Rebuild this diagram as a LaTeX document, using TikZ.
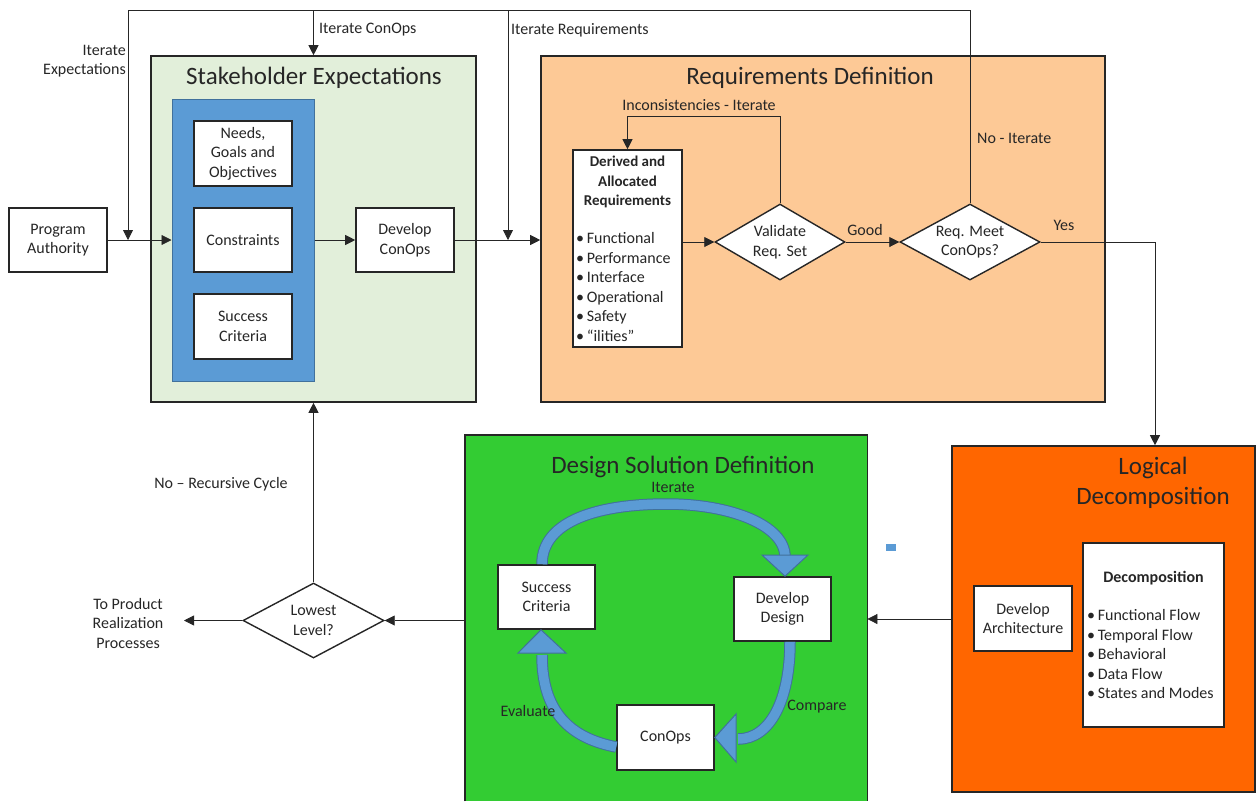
\documentclass[tikz,border=0pt]{standalone}
\usepackage{fontspec}
\setmainfont{Carlito}
\usetikzlibrary{arrows.meta,shapes.geometric}
\definecolor{segreen}{HTML}{E2EFDA}
\definecolor{sblue}{HTML}{5B9BD5}
\definecolor{sblueedge}{HTML}{41719C}
\definecolor{peach}{HTML}{FDC996}
\definecolor{dsgreen}{HTML}{33CC33}
\definecolor{ldorange}{HTML}{FF6600}
\definecolor{ink}{HTML}{262626}
\begin{document}
\begin{tikzpicture}[x=1pt,y=-1pt,
  every node/.style={text=ink, inner sep=0pt, font=\fontsize{16}{19.5}\selectfont},
  wbox/.style={draw=ink, line width=1.6pt, fill=white, align=center, minimum width=98pt, minimum height=64pt},
  panel/.style={draw=ink, line width=1.6pt},
  dmd/.style={diamond, draw=ink, line width=1.4pt, fill=white, align=center, aspect=1.8},
  arr/.style={draw=ink, line width=0.8pt, -{Triangle[length=10pt,width=10pt]}},
  ln/.style={draw=ink, line width=0.8pt},
  ttl/.style={font=\fontsize{25}{30}\selectfont, align=center},
  lbl/.style={font=\fontsize{16}{19.5}\selectfont, align=center},
  blk/.style={draw=sblueedge, line width=1pt, double=sblue, double distance=9.5pt},
  blkhead/.style={draw=sblueedge, line width=1pt, fill=sblue, line join=miter},
]
\useasboundingbox (0,0) rectangle (1256,801);

% ---------- Stakeholder Expectations ----------
\node[wbox] (pa) at (58,240) {Program\\Authority};
\node[panel, fill=segreen, minimum width=325pt, minimum height=346pt] (se) at (313.5,229) {};
\node[ttl] at (314,78) {Stakeholder Expectations};
\node[draw=sblueedge, line width=1pt, fill=sblue, minimum width=142pt, minimum height=282pt] (blue) at (243,240) {};
\node[wbox, minimum height=65pt] (ngo) at (243,153.5) {Needs,\\Goals and\\Objectives};
\node[wbox] (con) at (243,240) {Constraints};
\node[wbox, minimum height=65pt] (suc) at (243,326.5) {Success\\Criteria};
\node[wbox] (dco) at (405,240) {Develop\\ConOps};

% ---------- Requirements Definition ----------
\node[panel, fill=peach, minimum width=564pt, minimum height=346pt] (rd) at (823,229) {};
\node[ttl] at (810,78) {Requirements Definition};
\node[wbox, minimum width=109pt, minimum height=197pt] (der) at (627.5,248.5) {};
\node[font=\bfseries\fontsize{15}{19.5}\selectfont, align=center] at (627.5,182) {Derived and\\Allocated\\Requirements};
\node[anchor=west, align=left] at (576,287) {•\,Functional\\•\,Performance\\•\,Interface\\•\,Operational\\•\,Safety\\•\,“ilities”};
\node[dmd, minimum width=130pt, minimum height=76pt] (val) at (780,242) {Validate\\Req. Set};
\node[dmd, minimum width=140pt, minimum height=76pt] (rm) at (970,242) {Req. Meet\\ConOps?};

% ---------- Logical Decomposition ----------
\node[panel, fill=ldorange, minimum width=303pt, minimum height=346pt] (ld) at (1103.5,619) {};
\node[ttl] at (1153,483) {Logical\\Decomposition};
\node[wbox, minimum height=65pt] (arch) at (1023,618.5) {Develop\\Architecture};
\node[wbox, minimum width=141pt, minimum height=184pt] (dec) at (1153.5,635) {};
\node[font=\bfseries\fontsize{16}{19.5}\selectfont] at (1153.5,578) {Decomposition};
\node[anchor=west, align=left] at (1087,654) {•\,Functional Flow\\•\,Temporal Flow\\•\,Behavioral\\•\,Data Flow\\•\,States and Modes};
\fill[sblue] (886,544) rectangle (896,551);

% ---------- Design Solution Definition ----------
\node[fill=dsgreen, minimum width=402pt, minimum height=366pt, anchor=north west] (ds) at (465,435) {};
\draw[draw=ink, line width=1.6pt] (ds.south west) -- (ds.north west) -- (ds.north east) -- (ds.south east);
\node[ttl] at (683,467) {Design Solution Definition};
\node[wbox, minimum width=97pt] (sc2) at (546.5,597) {Success\\Criteria};
\node[wbox, minimum width=97pt] (dd) at (782.5,609) {Develop\\Design};
\node[wbox, minimum width=97pt, minimum height=65pt] (co) at (665.5,737.5) {ConOps};
\draw[blk] ([xshift=-4.5pt]sc2.north) .. controls (542,520) and (600,504) .. (667,504) .. controls (730,504) and (785,525) .. (785,557);
\draw[blkhead] (762,555) -- (808,555) -- ([xshift=2.5pt]dd.north) -- cycle;
\draw[blk] ([xshift=7.5pt]dd.south) .. controls (790,700) and (770,739) .. (738,739);
\draw[blkhead] (736,714) -- (736,762) -- (co.east) -- cycle;
\draw[blk] ([yshift=-9.5pt]co.west) .. controls (570,738) and (542,712) .. (542,655);
\draw[blkhead] (518,653) -- (566,653) -- ([xshift=-5.5pt]sc2.south) -- cycle;
\node[lbl] at (673,487) {Iterate};
\node[lbl] at (528,711) {Evaluate};
\node[lbl] at (817,707) {Compare};

% ---------- Lowest level ----------
\node[dmd, minimum width=141pt, minimum height=75pt] (low) at (313.5,620.5) {Lowest\\Level?};
\coordinate (tpr) at (184,620.5);
\node[lbl] at (128,623) {To Product\\Realization\\Processes};
\node[lbl] at (221,484) {No – Recursive Cycle};

% ---------- connectors ----------
\draw[arr] (pa.east) -- (blue.west);
\draw[arr] (blue.east) -- (dco.west);
\draw[arr] (dco.east) -- (dco.east -| rd.west);
\draw[arr] (der.east |- val.west) -- (val.west);
\draw[arr] (val.east) -- (rm.west);
\draw[arr] (val.north) -- ++(0,-87) -| (der.north);
\coordinate (c1) at (970,10);
\coordinate (c2) at (128,10);
\coordinate (j1) at (128,240);
\coordinate (j2) at (508,240);
\draw[arr] (rm.north) -- (c1) -- (c2) -- (j1);
\draw[arr] (se.north |- c1) -- (se.north);
\draw[arr] (j2 |- c1) -- (j2);
\coordinate (c3) at (1155,242);
\draw[arr] (rm.east) -- (c3) -- (c3 |- ld.north);
\draw[arr] (ld.west) -- (ld.west -| ds.east);
\draw[arr] (ds.west |- low.east) -- (low.east);
\draw[arr] (low.west) -- (tpr);
\draw[arr] (low.north) -- (se.south);

% ---------- labels ----------
\node[lbl, anchor=west] at (319,30) {Iterate ConOps};
\node[lbl, anchor=west] at (511,30) {Iterate Requirements};
\node[lbl, anchor=east, align=right] at (126,61) {Iterate\\Expectations};
\node[lbl] at (699,105) {Inconsistencies - Iterate};
\node[lbl, anchor=west] at (977,138) {No - Iterate};
\node[lbl] at (865,230) {Good};
\node[lbl] at (1064,225) {Yes};
\end{tikzpicture}
\end{document}
